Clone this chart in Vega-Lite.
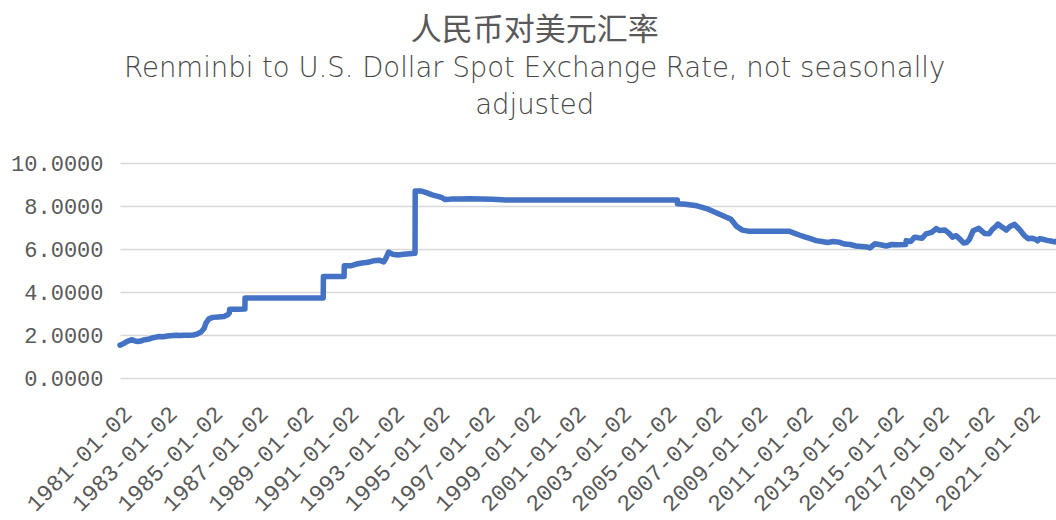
{
  "$schema": "https://vega.github.io/schema/vega-lite/v6.json",
  "width": 936,
  "height": 215,
  "autosize": {"type": "none"},
  "padding": {"left": 120, "top": 163, "right": 0, "bottom": 142},
  "background": "white",
  "title": {
    "text": "人民币对美元汇率",
    "subtitle": ["Renminbi to U.S. Dollar Spot Exchange Rate, not seasonally", "adjusted"],
    "anchor": "middle",
    "frame": "bounds",
    "font": "Noto Sans CJK SC",
    "fontSize": 31,
    "fontWeight": "normal",
    "color": "#595959",
    "subtitleFont": "DejaVu Sans",
    "subtitleFontSize": 27.5,
    "subtitleFontWeight": 200,
    "subtitleColor": "#474747",
    "subtitleLineHeight": 37,
    "subtitlePadding": 8,
    "offset": 32
  },
  "config": {
    "view": {"stroke": null},
    "axis": {
      "labelFont": "Liberation Mono",
      "labelFontSize": 22,
      "labelColor": "#595959",
      "ticks": false,
      "domain": false,
      "title": null
    }
  },
  "data": {
    "values": [
      {"date": "1981-01-02", "rate": 1.53},
      {"date": "1981-02-15", "rate": 1.58},
      {"date": "1981-04-01", "rate": 1.66},
      {"date": "1981-06-01", "rate": 1.74},
      {"date": "1981-07-15", "rate": 1.78},
      {"date": "1981-09-01", "rate": 1.72},
      {"date": "1981-10-15", "rate": 1.70},
      {"date": "1981-12-01", "rate": 1.72},
      {"date": "1982-02-01", "rate": 1.78},
      {"date": "1982-04-01", "rate": 1.80},
      {"date": "1982-06-01", "rate": 1.86},
      {"date": "1982-08-01", "rate": 1.90},
      {"date": "1982-10-01", "rate": 1.93},
      {"date": "1982-12-01", "rate": 1.92},
      {"date": "1983-02-01", "rate": 1.95},
      {"date": "1983-05-01", "rate": 1.98},
      {"date": "1983-07-01", "rate": 1.99},
      {"date": "1983-09-01", "rate": 1.98},
      {"date": "1983-11-01", "rate": 1.99},
      {"date": "1984-01-01", "rate": 1.99},
      {"date": "1984-04-01", "rate": 2.00},
      {"date": "1984-06-01", "rate": 2.05},
      {"date": "1984-08-01", "rate": 2.15},
      {"date": "1984-09-15", "rate": 2.30},
      {"date": "1984-10-15", "rate": 2.55},
      {"date": "1984-12-01", "rate": 2.75},
      {"date": "1985-02-01", "rate": 2.82},
      {"date": "1985-05-01", "rate": 2.84},
      {"date": "1985-08-01", "rate": 2.86},
      {"date": "1985-10-01", "rate": 2.94},
      {"date": "1985-10-25", "rate": 3.02},
      {"date": "1985-11-01", "rate": 3.20},
      {"date": "1986-03-01", "rate": 3.20},
      {"date": "1986-07-04", "rate": 3.21},
      {"date": "1986-07-07", "rate": 3.72},
      {"date": "1988-01-01", "rate": 3.72},
      {"date": "1989-12-15", "rate": 3.72},
      {"date": "1989-12-18", "rate": 4.72},
      {"date": "1990-11-16", "rate": 4.72},
      {"date": "1990-11-19", "rate": 5.22},
      {"date": "1991-03-01", "rate": 5.22},
      {"date": "1991-06-01", "rate": 5.30},
      {"date": "1991-09-01", "rate": 5.35},
      {"date": "1991-12-01", "rate": 5.38},
      {"date": "1992-03-01", "rate": 5.45},
      {"date": "1992-06-01", "rate": 5.48},
      {"date": "1992-08-15", "rate": 5.40},
      {"date": "1992-09-15", "rate": 5.55},
      {"date": "1992-11-01", "rate": 5.85},
      {"date": "1993-01-01", "rate": 5.76},
      {"date": "1993-04-01", "rate": 5.72},
      {"date": "1993-07-01", "rate": 5.76},
      {"date": "1993-10-01", "rate": 5.78},
      {"date": "1993-12-31", "rate": 5.80},
      {"date": "1994-01-03", "rate": 8.70},
      {"date": "1994-04-01", "rate": 8.70},
      {"date": "1994-07-01", "rate": 8.62},
      {"date": "1994-10-01", "rate": 8.52},
      {"date": "1995-01-01", "rate": 8.45},
      {"date": "1995-03-01", "rate": 8.40},
      {"date": "1995-05-01", "rate": 8.30},
      {"date": "1995-08-01", "rate": 8.32},
      {"date": "1996-01-01", "rate": 8.33},
      {"date": "1996-06-01", "rate": 8.34},
      {"date": "1996-12-01", "rate": 8.32},
      {"date": "1997-06-01", "rate": 8.31},
      {"date": "1998-01-01", "rate": 8.28},
      {"date": "2001-01-01", "rate": 8.28},
      {"date": "2005-07-20", "rate": 8.28},
      {"date": "2005-07-21", "rate": 8.11},
      {"date": "2005-12-01", "rate": 8.08},
      {"date": "2006-06-01", "rate": 8.01},
      {"date": "2006-12-01", "rate": 7.85},
      {"date": "2007-06-01", "rate": 7.62},
      {"date": "2007-12-01", "rate": 7.38},
      {"date": "2008-03-01", "rate": 7.05},
      {"date": "2008-06-01", "rate": 6.88},
      {"date": "2008-09-01", "rate": 6.83},
      {"date": "2009-06-01", "rate": 6.83},
      {"date": "2010-06-18", "rate": 6.83},
      {"date": "2010-09-01", "rate": 6.75},
      {"date": "2010-12-01", "rate": 6.65},
      {"date": "2011-03-01", "rate": 6.56},
      {"date": "2011-06-01", "rate": 6.48},
      {"date": "2011-09-01", "rate": 6.39},
      {"date": "2011-12-01", "rate": 6.35},
      {"date": "2012-03-01", "rate": 6.30},
      {"date": "2012-06-01", "rate": 6.35},
      {"date": "2012-09-01", "rate": 6.32},
      {"date": "2012-12-01", "rate": 6.23},
      {"date": "2013-03-01", "rate": 6.21},
      {"date": "2013-06-01", "rate": 6.14},
      {"date": "2013-09-01", "rate": 6.12},
      {"date": "2013-12-01", "rate": 6.09},
      {"date": "2014-01-15", "rate": 6.05},
      {"date": "2014-04-01", "rate": 6.24},
      {"date": "2014-07-01", "rate": 6.20},
      {"date": "2014-10-01", "rate": 6.14},
      {"date": "2015-01-01", "rate": 6.21},
      {"date": "2015-04-01", "rate": 6.20},
      {"date": "2015-08-10", "rate": 6.21},
      {"date": "2015-08-20", "rate": 6.39},
      {"date": "2015-11-01", "rate": 6.35},
      {"date": "2016-01-01", "rate": 6.55},
      {"date": "2016-03-01", "rate": 6.52},
      {"date": "2016-05-01", "rate": 6.50},
      {"date": "2016-07-01", "rate": 6.70},
      {"date": "2016-10-01", "rate": 6.77},
      {"date": "2016-12-15", "rate": 6.95},
      {"date": "2017-02-01", "rate": 6.86},
      {"date": "2017-05-01", "rate": 6.88},
      {"date": "2017-07-01", "rate": 6.75},
      {"date": "2017-09-01", "rate": 6.55},
      {"date": "2017-11-01", "rate": 6.62},
      {"date": "2018-01-01", "rate": 6.45},
      {"date": "2018-03-01", "rate": 6.28},
      {"date": "2018-04-15", "rate": 6.30},
      {"date": "2018-06-01", "rate": 6.45},
      {"date": "2018-08-01", "rate": 6.85},
      {"date": "2018-10-30", "rate": 6.96},
      {"date": "2018-12-01", "rate": 6.88},
      {"date": "2019-02-01", "rate": 6.72},
      {"date": "2019-04-15", "rate": 6.71},
      {"date": "2019-06-01", "rate": 6.90},
      {"date": "2019-08-01", "rate": 7.05},
      {"date": "2019-09-03", "rate": 7.16},
      {"date": "2019-11-01", "rate": 7.03},
      {"date": "2020-01-15", "rate": 6.88},
      {"date": "2020-03-15", "rate": 7.05},
      {"date": "2020-05-27", "rate": 7.15},
      {"date": "2020-07-15", "rate": 7.00},
      {"date": "2020-09-01", "rate": 6.85},
      {"date": "2020-11-01", "rate": 6.62},
      {"date": "2021-01-01", "rate": 6.48},
      {"date": "2021-03-01", "rate": 6.50},
      {"date": "2021-05-01", "rate": 6.45},
      {"date": "2021-06-01", "rate": 6.38},
      {"date": "2021-07-01", "rate": 6.48},
      {"date": "2021-09-01", "rate": 6.45},
      {"date": "2021-11-01", "rate": 6.40},
      {"date": "2022-01-01", "rate": 6.37},
      {"date": "2022-03-01", "rate": 6.33},
      {"date": "2022-03-25", "rate": 6.36}
    ]
  },
  "mark": {"type": "line", "color": "#4472C4", "strokeWidth": 5.5, "strokeJoin": "round", "strokeCap": "round"},
  "encoding": {
    "x": {
      "field": "date",
      "type": "temporal",
      "scale": {"type": "utc", "domain": [{"year": 1981, "month": 1, "date": 2, "utc": true}, {"year": 2022, "month": 3, "date": 25, "utc": true}]},
      "axis": {
        "values": [
          {"year": 1981, "month": 1, "date": 2, "utc": true},
          {"year": 1983, "month": 1, "date": 2, "utc": true},
          {"year": 1985, "month": 1, "date": 2, "utc": true},
          {"year": 1987, "month": 1, "date": 2, "utc": true},
          {"year": 1989, "month": 1, "date": 2, "utc": true},
          {"year": 1991, "month": 1, "date": 2, "utc": true},
          {"year": 1993, "month": 1, "date": 2, "utc": true},
          {"year": 1995, "month": 1, "date": 2, "utc": true},
          {"year": 1997, "month": 1, "date": 2, "utc": true},
          {"year": 1999, "month": 1, "date": 2, "utc": true},
          {"year": 2001, "month": 1, "date": 2, "utc": true},
          {"year": 2003, "month": 1, "date": 2, "utc": true},
          {"year": 2005, "month": 1, "date": 2, "utc": true},
          {"year": 2007, "month": 1, "date": 2, "utc": true},
          {"year": 2009, "month": 1, "date": 2, "utc": true},
          {"year": 2011, "month": 1, "date": 2, "utc": true},
          {"year": 2013, "month": 1, "date": 2, "utc": true},
          {"year": 2015, "month": 1, "date": 2, "utc": true},
          {"year": 2017, "month": 1, "date": 2, "utc": true},
          {"year": 2019, "month": 1, "date": 2, "utc": true},
          {"year": 2021, "month": 1, "date": 2, "utc": true}
        ],
        "format": "%Y-%m-%d",
        "labelAngle": -45,
        "labelFontSize": 23,
        "labelPadding": 24,
        "labelOverlap": false,
        "labelFlush": false,
        "labelBound": false,
        "grid": false
      }
    },
    "y": {
      "field": "rate",
      "type": "quantitative",
      "scale": {"domain": [0, 10], "nice": false},
      "axis": {
        "values": [0, 2, 4, 6, 8, 10],
        "format": ".4f",
        "labelPadding": 17,
        "grid": true,
        "gridColor": "#d9d9d9",
        "gridWidth": 1.5
      }
    }
  }
}
